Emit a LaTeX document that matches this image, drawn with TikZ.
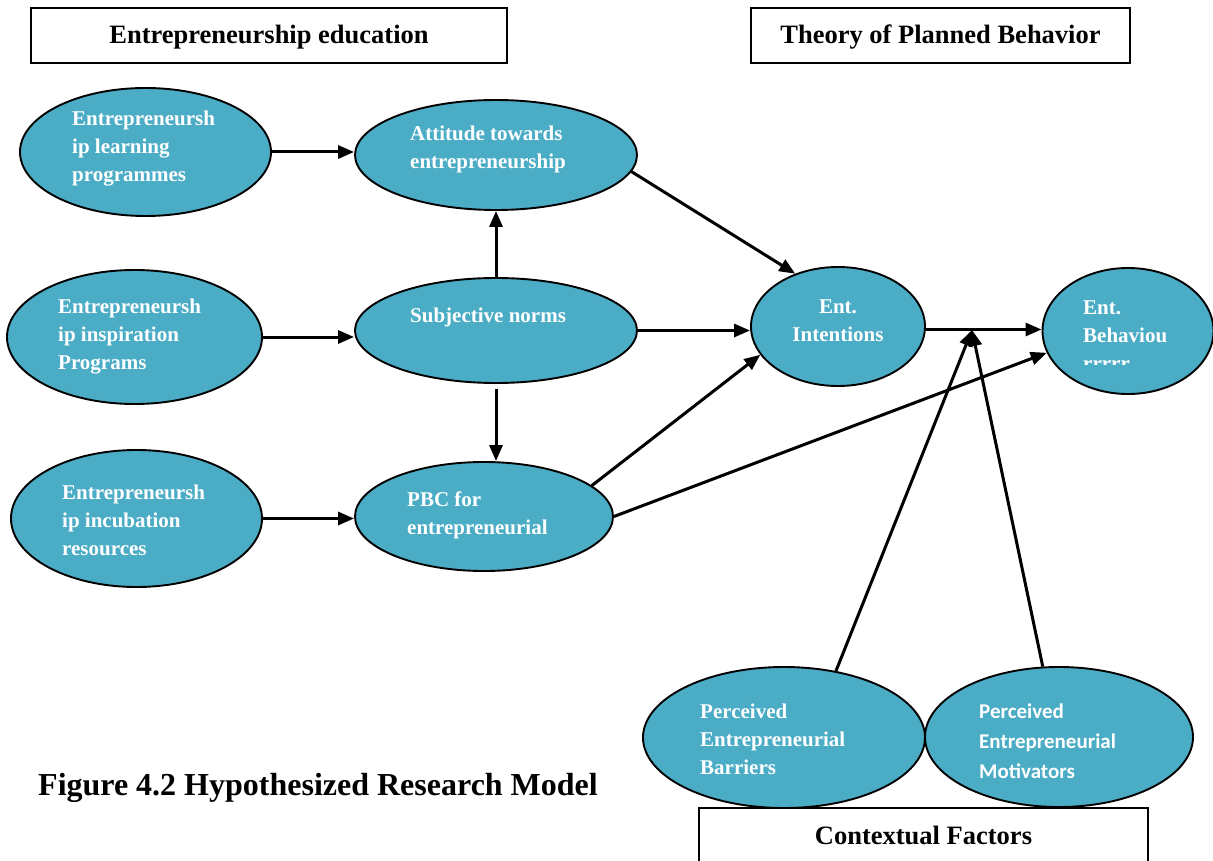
\documentclass[tikz,border=0pt]{standalone}
\usepackage{fontspec}
\setmainfont{Liberation Serif}
\newfontfamily\calfont{Carlito}
\usetikzlibrary{arrows.meta,shapes.geometric}
\definecolor{ovalc}{HTML}{4BACC6}
\tikzset{
  ar/.style={-{Triangle[length=16pt,width=13pt]},line width=3pt},
  ov/.style={ellipse,draw,line width=1.9pt,fill=ovalc,inner sep=0pt},
  ttl/.style={draw,line width=1.3pt,inner sep=0pt,font=\bfseries\fontsize{26.5}{32}\selectfont},
  lbl/.style={text=white,font=\bfseries\fontsize{21}{28}\selectfont,align=left,inner sep=0pt,anchor=west}
}
\begin{document}
\begin{tikzpicture}[x=1pt,y=-1pt]
\useasboundingbox (0,0) rectangle (1213,861);
\node[ttl,minimum width=476pt,minimum height=55pt,text depth=2pt] (edu) at (269,35.5) {Entrepreneurship education};
\node[ttl,minimum width=379pt,minimum height=55pt,text depth=2pt] (tpb) at (940.5,35.5) {Theory of Planned Behavior};
\node[inner sep=0pt,font=\bfseries\fontsize{26.5}{32}\selectfont] (ctx) at (923.5,835) {Contextual Factors};
\draw[line width=1.3pt] (699,861) -- (699,808) -- (1148,808) -- (1148,861);
\node[anchor=west,inner sep=0pt,font=\bfseries\fontsize{32}{38}\selectfont] (cap) at (38,788) {Figure 4.2 Hypothesized Research Model};
% ovals
\node[ov,minimum width=251pt,minimum height=128pt] (lrn) at (145.5,152) {};
\node[ov,minimum width=255pt,minimum height=134pt] (insp) at (134.5,337) {};
\node[ov,minimum width=251pt,minimum height=137pt] (incb) at (136.5,518.5) {};
\node[ov,minimum width=282pt,minimum height=110pt] (att) at (496,155) {};
\node[ov,minimum width=282pt,minimum height=105pt] (sn) at (496,330.5) {};
\node[ov,minimum width=258pt,minimum height=109pt] (pbc) at (484,516.5) {};
\node[ov,minimum width=174pt,minimum height=119pt] (int) at (838,326.5) {};
\node[ov,minimum width=171pt,minimum height=126pt] (beh) at (1128,331) {};
\node[ov,minimum width=282pt,minimum height=141pt] (bar) at (784,737.5) {};
\node[ov,minimum width=268pt,minimum height=140pt] (mot) at (1059,737) {};
% oval texts
\node[lbl] (lrntxt) at (72,149) {Entrepreneursh\\ip learning\\programmes};
\node[lbl] (insptxt) at (58,337) {Entrepreneursh\\ip inspiration\\Programs};
\node[lbl] (incbtxt) at (62,520) {Entrepreneursh\\ip incubation\\resources};
\node[lbl] (atttxt) at (410,149) {Attitude towards\\entrepreneurship};
\node[lbl] (sntxt) at (410,317) {Subjective norms};
\node[lbl] (pbctxt) at (407,515) {PBC for\\entrepreneurial};
\node[lbl,anchor=center,align=center] (inttxt) at (838,321) {Ent.\\Intentions};
\begin{scope}
\clip (1060,285) rectangle (1200,364);
\node[lbl] (behtxt) at (1083,336) {Ent.\\Behaviou\\rrrrr};
\end{scope}
\node[lbl] (bartxt) at (700,739) {Perceived\\Entrepreneurial\\Barriers};
\node[lbl,font=\calfont\bfseries\fontsize{21}{30}\selectfont] (mottxt) at (979,741) {Perceived\\Entrepreneurial\\Motivators};
% connectors
\coordinate (jn) at (972,330);
\draw[ar] (lrn.east) -- (lrn.east -| att.west);
\draw[ar] (insp.east) -- (insp.east -| sn.west);
\draw[ar] (incb.east) -- (incb.east -| pbc.west);
\draw[ar] (sn.north) -- (att.south);
\draw[ar,shorten <=5pt] (sn.south) -- (sn.south |- pbc.north);
\draw[ar] (att.-7) -- (int.129);
\draw[ar] (sn.east) -- (sn.east -| int.west);
\draw[ar] (pbc.16) -- (int.200);
\draw[ar] (pbc.east) -- (beh.195);
\draw[ar] ([yshift=-3pt]int.east) -- ([yshift=-3pt]int.east -| beh.west);
\draw[ar] (bar.52) -- (jn);
\draw[ar] (mot.103) -- (jn);
\end{tikzpicture}
\end{document}
